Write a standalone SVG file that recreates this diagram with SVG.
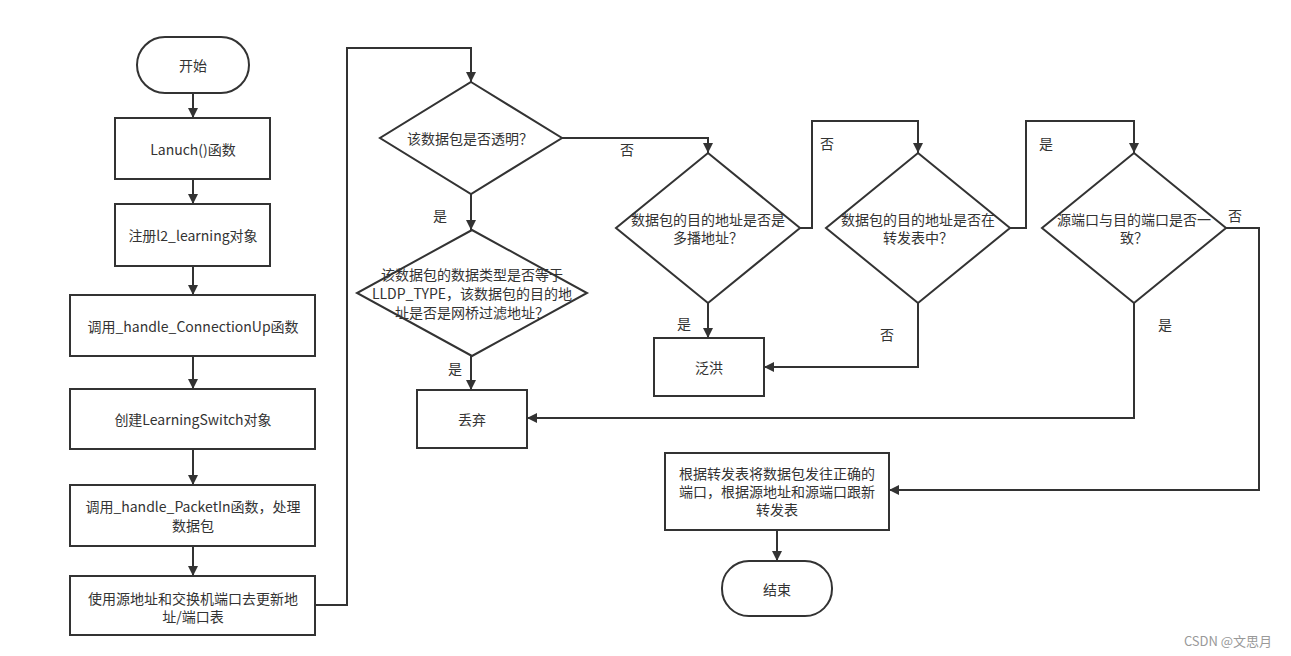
<svg xmlns="http://www.w3.org/2000/svg" width="1291" height="656" viewBox="0 0 1291 656">
<style>
.s{fill:#fff;stroke:#333;stroke-width:2}
.c{fill:none;stroke:#333;stroke-width:2}
text{font-family:"Noto Sans CJK SC","Microsoft YaHei",sans-serif;font-size:14px;fill:#333;text-anchor:middle;dominant-baseline:central}
.l{text-anchor:middle}
</style>
<defs>
<marker id="a" viewBox="0 0 10 10" refX="10" refY="5" markerWidth="10" markerHeight="10" markerUnits="userSpaceOnUse" orient="auto">
<path d="M0,0 L10,5 L0,10 z" fill="#333"/>
</marker>
</defs>
<rect width="1291" height="656" fill="#fff"/>
<g id="connectors">
<path class="c" d="M193,93 V118" marker-end="url(#a)"/>
<path class="c" d="M193,179 V204" marker-end="url(#a)"/>
<path class="c" d="M193,266 V295" marker-end="url(#a)"/>
<path class="c" d="M193,356 V389" marker-end="url(#a)"/>
<path class="c" d="M193,449 V485" marker-end="url(#a)"/>
<path class="c" d="M193,546 V576" marker-end="url(#a)"/>
<path class="c" d="M315,605 H347 V48 H471 V82" marker-end="url(#a)"/>
<path class="c" d="M471,194 V230" marker-end="url(#a)"/>
<path class="c" d="M471,356 V390" marker-end="url(#a)"/>
<path class="c" d="M562,138 H708 V153" marker-end="url(#a)"/>
<path class="c" d="M708,303 V338" marker-end="url(#a)"/>
<path class="c" d="M800,228 H812 V121 H918 V153" marker-end="url(#a)"/>
<path class="c" d="M918,303 V367 H764" marker-end="url(#a)"/>
<path class="c" d="M1010,228 H1026 V121 H1134 V153" marker-end="url(#a)"/>
<path class="c" d="M1134,303 V418 H527" marker-end="url(#a)"/>
<path class="c" d="M1226,228 H1259 V490 H889" marker-end="url(#a)"/>
<path class="c" d="M777,530 V561" marker-end="url(#a)"/>
<text x="627" y="149">否</text>
<text x="440" y="215">是</text>
<text x="455" y="368">是</text>
<text x="684" y="323">是</text>
<text x="827" y="143">否</text>
<text x="887" y="334">否</text>
<text x="1046" y="143">是</text>
<text x="1165" y="324">是</text>
<text x="1235" y="215">否</text>
</g>
<g id="start"><rect class="s" x="137" y="37" width="112" height="56" rx="28"/><text x="193" y="65">开始</text></g>
<g id="launch"><rect class="s" x="115" y="118" width="155" height="61"/><text x="193" y="149">Lanuch()函数</text></g>
<g id="register"><rect class="s" x="115" y="204" width="155" height="62"/><text x="193" y="235">注册l2_learning对象</text></g>
<g id="connup"><rect class="s" x="70" y="295" width="245" height="61"/><text x="193" y="326">调用_handle_ConnectionUp函数</text></g>
<g id="create"><rect class="s" x="70" y="389" width="245" height="60"/><text x="193" y="419">创建LearningSwitch对象</text></g>
<g id="packetin"><rect class="s" x="70" y="485" width="245" height="61"/><text x="193" y="506">调用_handle_PacketIn函数，处理</text><text x="193" y="525">数据包</text></g>
<g id="update"><rect class="s" x="70" y="576" width="245" height="59"/><text x="193" y="598">使用源地址和交换机端口去更新地</text><text x="193" y="616">址/端口表</text></g>
<g id="d1"><path class="s" d="M471,82 L562,138 L471,194 L380,138 Z"/><text x="470" y="138">该数据包是否透明？</text></g>
<g id="d2"><path class="s" d="M472,230 L587,293 L472,356 L357,293 Z"/><text x="472" y="274">该数据包的数据类型是否等于</text><text x="472" y="293">LLDP_TYPE，该数据包的目的地</text><text x="472" y="312">址是否是网桥过滤地址？</text></g>
<g id="discard"><rect class="s" x="417" y="390" width="110" height="58"/><text x="472" y="419">丢弃</text></g>
<g id="d3"><path class="s" d="M708,153 L800,228 L708,303 L616,228 Z"/><text x="708" y="219">数据包的目的地址是否是</text><text x="708" y="237">多播地址？</text></g>
<g id="flood"><rect class="s" x="654" y="338" width="110" height="58"/><text x="709" y="367">泛洪</text></g>
<g id="d4"><path class="s" d="M918,153 L1010,228 L918,303 L826,228 Z"/><text x="918" y="219">数据包的目的地址是否在</text><text x="918" y="237">转发表中？</text></g>
<g id="d5"><path class="s" d="M1134,153 L1226,228 L1134,303 L1042,228 Z"/><text x="1134" y="219">源端口与目的端口是否一</text><text x="1134" y="237">致？</text></g>
<g id="forward"><rect class="s" x="665" y="453" width="224" height="77"/><text x="777" y="473">根据转发表将数据包发往正确的</text><text x="777" y="491">端口，根据源地址和源端口跟新</text><text x="777" y="509">转发表</text></g>
<g id="end"><rect class="s" x="722" y="561" width="110" height="55" rx="27"/><text x="777" y="589">结束</text></g>
<text x="1228" y="640" style="fill:#999;font-size:13px">CSDN @文思月</text>
</svg>
